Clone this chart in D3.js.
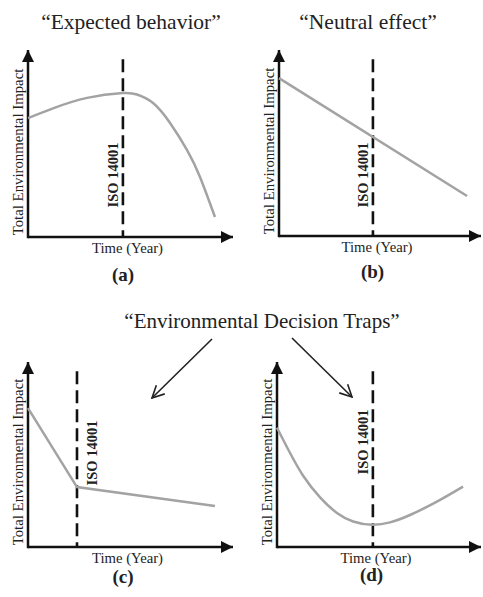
<!DOCTYPE html>
<html>
<head>
<meta charset="utf-8">
<script src="https://cdn.jsdelivr.net/npm/d3@7"></script>
<style>
  body { margin: 0; background: #fff; }
  text { font-family: "Liberation Serif", "Times New Roman", serif; fill: #222; }
</style>
</head>
<body>
<script>

// time on x (0..10), impact on y (0..10)
const panelIds = ['a', 'b', 'c', 'd']
const panelTitles = ['\u201CExpected behavior\u201D', '\u201CNeutral effect\u201D', '', '']
const isoYear = [4.63, 4.65, 2.39, 4.7]

const curveA = [[0, 6.36], [1.22, 6.88], [2.88, 7.44], [4.63, 7.7], [5.32, 7.62], [6.1, 7.17], [6.93, 6.1], [7.76, 4.65], [8.39, 3.21], [9.12, 1.07]]
const curveB = [[0, 8.49], [9.31, 2.15]]
const curveC = [[0, 7.51], [2.39, 3.24], [9.12, 2.22]]
const curveD = [[0, 6.45], [0.64, 5.08], [1.29, 3.84], [2.11, 2.68], [2.94, 1.84], [3.73, 1.38], [4.66, 1.2], [5.54, 1.33], [6.52, 1.73], [7.84, 2.45], [9.12, 3.26]]
const curves = [curveA, curveB, curveC, curveD]

const trapsTitle = '\u201CEnvironmental Decision Traps\u201D'
const yLabel = 'Total Environmental Impact'
const xLabel = 'Time (Year)'
const isoLabel = 'ISO 14001'

const W = 483, H = 597

// axis frame per panel: origin and arrow tips
const frames = [
	{ left: 28, right: 233, bottom: 237, top: 50, isoSide: -1, isoMid: 175, lblY: 281 },
	{ left: 279, right: 481, bottom: 236, top: 50, isoSide: -1, isoMid: 175, lblY: 278 },
	{ left: 28, right: 233, bottom: 547, top: 362, isoSide: 1, isoMid: 453, lblY: 583 },
	{ left: 277, right: 481, bottom: 547, top: 362, isoSide: -1, isoMid: 442, lblY: 581 }
]

const svg = d3.select('body').append('svg')
	.attr('width', W)
	.attr('height', H)

const defs = svg.append('defs')
defs.append('marker')
	.attr('id', 'tip')
	.attr('viewBox', '0 0 12 12')
	.attr('refX', 12)
	.attr('refY', 6)
	.attr('markerWidth', 12)
	.attr('markerHeight', 12)
	.attr('markerUnits', 'userSpaceOnUse')
	.attr('orient', 'auto')
.append('path')
	.attr('d', 'M0,0L12,6L0,12Z')
	.attr('fill', '#111')

defs.append('marker')
	.attr('id', 'open')
	.attr('viewBox', '0 0 14 14')
	.attr('refX', 13)
	.attr('refY', 7)
	.attr('markerWidth', 14)
	.attr('markerHeight', 14)
	.attr('markerUnits', 'userSpaceOnUse')
	.attr('orient', 'auto')
.append('path')
	.attr('d', 'M1,1L13,7L1,13')
	.attr('fill', 'none')
	.attr('stroke', '#222')
	.attr('stroke-width', 1.6)

frames.forEach(function(f, i) {
	const x = d3.scaleLinear().domain([0, 10]).range([f.left, f.right])
	const y = d3.scaleLinear().domain([0, 10]).range([f.bottom, f.top])
	const g = svg.append('g').attr('class', 'panel-' + panelIds[i])

	// axes with arrow heads
	g.append('line')
		.attr('x1', x(0)).attr('y1', y(0))
		.attr('x2', x(10)).attr('y2', y(0))
		.attr('stroke', '#111').attr('stroke-width', 2.5)
		.attr('marker-end', 'url(#tip)')
	g.append('line')
		.attr('x1', x(0)).attr('y1', y(0) + 1.2)
		.attr('x2', x(0)).attr('y2', y(10))
		.attr('stroke', '#111').attr('stroke-width', 2.5)
		.attr('marker-end', 'url(#tip)')

	// ISO 14001 certification year
	const ix = x(isoYear[i])
	g.append('line')
		.attr('x1', ix).attr('y1', y(9.5))
		.attr('x2', ix).attr('y2', y(0))
		.attr('stroke', '#111').attr('stroke-width', 2.6)
		.attr('stroke-dasharray', '13,6')

	const line = d3.line()
		.x(function(d) { return x(d[0]) })
		.y(function(d) { return y(d[1]) })
		.curve(i === 0 || i === 3 ? d3.curveNatural : d3.curveLinear)

	g.append('path')
		.datum(curves[i])
		.attr('d', line)
		.attr('fill', 'none')
		.attr('stroke', '#a3a3a3')
		.attr('stroke-width', 2.5)

	const isoX = f.isoSide < 0 ? ix - 5 : ix + 20
	g.append('text')
		.attr('transform', 'translate(' + isoX + ',' + f.isoMid + ') rotate(-90)')
		.attr('text-anchor', 'middle')
		.style('font-size', '14.5px')
		.style('font-weight', 'bold')
		.text(isoLabel)

	g.append('text')
		.attr('transform', 'translate(' + (x(0) - 5.5) + ',' + (y(0) - 85) + ') rotate(-90)')
		.attr('text-anchor', 'middle')
		.style('font-size', '14.8px')
		.text(yLabel)

	const mid = (x(0) + x(10)) / 2
	g.append('text')
		.attr('x', mid - 3)
		.attr('y', y(0) + 16)
		.attr('text-anchor', 'middle')
		.style('font-size', '14.7px')
		.text(xLabel)

	g.append('text')
		.attr('x', mid - 7.5)
		.attr('y', f.lblY)
		.attr('text-anchor', 'middle')
		.style('font-size', '19px')
		.style('font-weight', 'bold')
		.text('(' + panelIds[i] + ')')

	if (panelTitles[i]) {
		g.append('text')
			.attr('x', i === 0 ? 131 : 368)
			.attr('y', 29)
			.attr('text-anchor', 'middle')
			.style('font-size', '21.5px')
			.text(panelTitles[i])
	}
})

svg.append('text')
	.attr('x', 262)
	.attr('y', 328)
	.attr('text-anchor', 'middle')
	.style('font-size', '21px')
	.text(trapsTitle)

// pointers from the traps title down to (c) and (d)
const pointers = [[[212, 339], [152, 398]], [[292, 338], [352, 397]]]
svg.selectAll('.pointer')
	.data(pointers)
.enter().append('line')
	.attr('class', 'pointer')
	.attr('x1', function(d) { return d[0][0] })
	.attr('y1', function(d) { return d[0][1] })
	.attr('x2', function(d) { return d[1][0] })
	.attr('y2', function(d) { return d[1][1] })
	.attr('stroke', '#222')
	.attr('stroke-width', 1.6)
	.attr('marker-end', 'url(#open)')

</script>
</body>
</html>
